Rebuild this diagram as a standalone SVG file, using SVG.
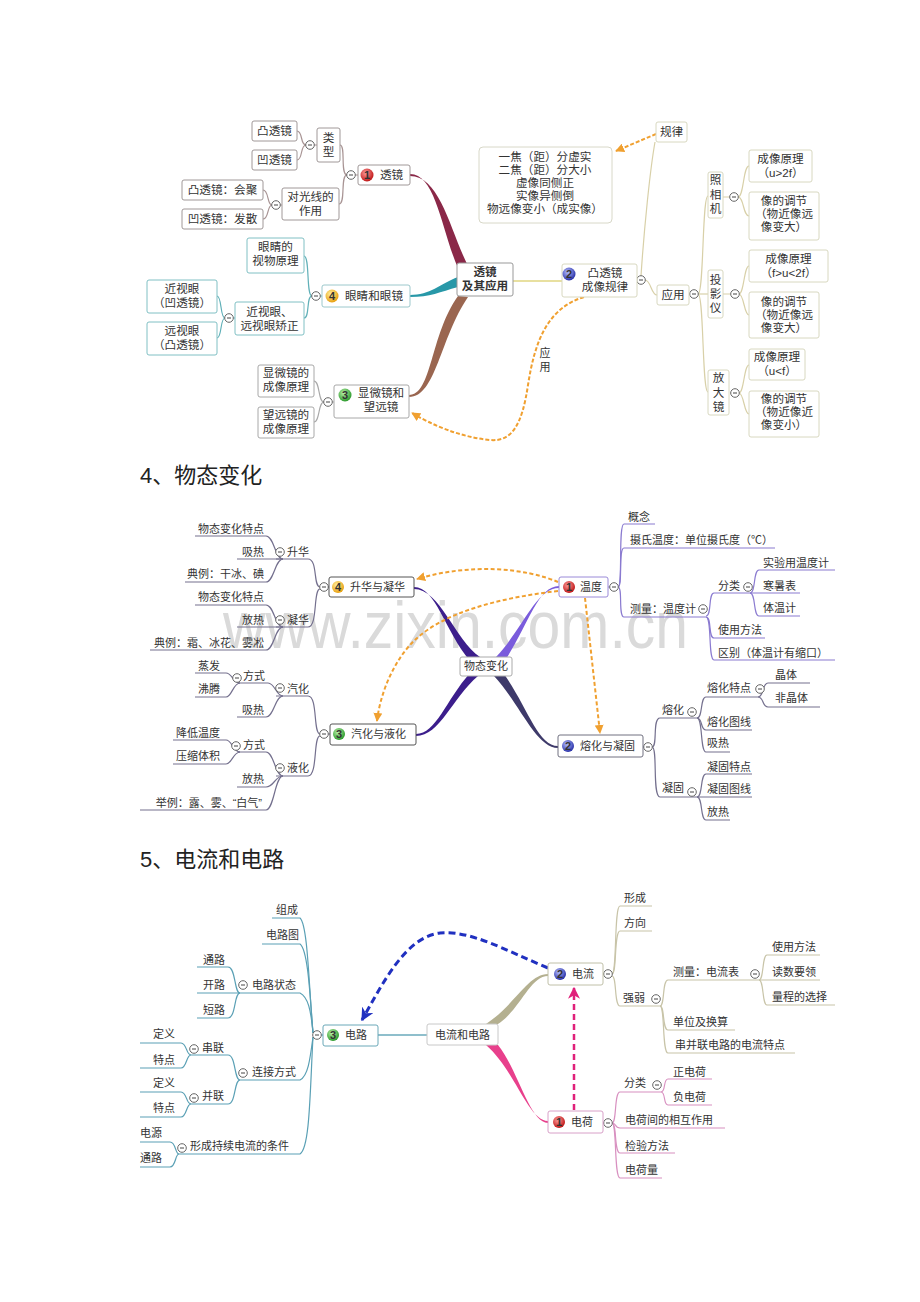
<svg xmlns="http://www.w3.org/2000/svg" xmlns:xlink="http://www.w3.org/1999/xlink" width="920" height="1302" viewBox="0 0 920 1302">
<style>
.t{font-family:"Liberation Sans","Noto Sans CJK SC",sans-serif;font-size:11px;fill:#333}
.m1{font-size:11.6px}
.c{text-anchor:middle}
.e{text-anchor:end}
.bold{font-weight:bold}
.hd{font-family:"Liberation Sans","Noto Sans CJK SC",sans-serif;font-size:22px;fill:#222}
.bx{fill:#fff;stroke-width:1}
.ln{fill:none;stroke-width:1.2}
.wm{font-family:"Liberation Sans",sans-serif;font-size:66px;fill:#dadada}
</style>
<defs>
<radialGradient id="gr" cx="40%" cy="35%" r="65%"><stop offset="0" stop-color="#ff9a9a"/><stop offset="1" stop-color="#c01818"/></radialGradient>
<radialGradient id="gy" cx="40%" cy="35%" r="65%"><stop offset="0" stop-color="#fff0a0"/><stop offset="1" stop-color="#e8a010"/></radialGradient>
<radialGradient id="gg" cx="40%" cy="35%" r="65%"><stop offset="0" stop-color="#b8f0a8"/><stop offset="1" stop-color="#2c9a2c"/></radialGradient>
<radialGradient id="gb" cx="40%" cy="35%" r="65%"><stop offset="0" stop-color="#b8c0ff"/><stop offset="1" stop-color="#2830a8"/></radialGradient>
<g id="mn"><circle r="4.3" fill="#fff" stroke="#666" stroke-width="1"/><line x1="-2" y1="0" x2="2" y2="0" stroke="#444" stroke-width="1"/></g>
<marker id="ao" viewBox="0 0 10 10" refX="9" refY="5" markerWidth="9" markerHeight="9" markerUnits="userSpaceOnUse" orient="auto"><path d="M0,0 L10,5 L0,10 Z" fill="#f0a030"/></marker>
<marker id="ab" viewBox="0 0 10 10" refX="9" refY="5" markerWidth="13" markerHeight="13" markerUnits="userSpaceOnUse" orient="auto"><path d="M0,0 L10,5 L0,10 L3,5 Z" fill="#2030c0"/></marker>
<marker id="ap" viewBox="0 0 10 10" refX="9" refY="5" markerWidth="12" markerHeight="12" markerUnits="userSpaceOnUse" orient="auto"><path d="M0,0 L10,5 L0,10 L3,5 Z" fill="#e0207a"/></marker>
</defs>
<rect x="0" y="0" width="920" height="1302" fill="#fff"/>

<!-- ================= MAP 1 ================= -->
<g id="connectors-1">
<path d="M410,174 C436,174 442,232 458,268 L468,266 C450,230 440,176 410,176 Z" fill="#8a2848"/>
<path d="M410,295 C430,295 440,284 458,277 L458,287 C440,292 430,297 410,297 Z" fill="#2898a8"/>
<path d="M409,395 C432,395 430,335 458,296 L468,297 C440,338 436,397 409,397 Z" fill="#9a6650"/>
<path d="M513,281 L562,281" stroke="#e8e0a0" stroke-width="2" fill="none"/>
<g class="ln" stroke="#a89494">
<path d="M358,175 L347,175 C340,175 346,145 340,145"/>
<path d="M347,175 C340,175 346,204 339,204"/>
<path d="M317,145 L306,145 C300,145 303,131 297,131"/>
<path d="M306,145 C300,145 303,160 297,160"/>
<path d="M282,205 L272,205 C267,205 269,190 263,190"/>
<path d="M272,205 C267,205 269,219 263,219"/>
</g>
<g class="ln" stroke="#60b0b8">
<path d="M322,296 L312,296 C306,296 310,256 304,256"/>
<path d="M312,296 C306,296 310,318 304,318"/>
<path d="M235,318 L225,318 C220,318 222,296 217,296"/>
<path d="M225,318 C220,318 222,338 217,338"/>
</g>
<g class="ln" stroke="#a8a8a8">
<path d="M334,402 L324,402 C318,402 320,381 314,381"/>
<path d="M324,402 C318,402 320,422 314,422"/>
</g>
<g class="ln" stroke="#d8d0a8">
<path d="M637,280 L641,280"/>
<path d="M641,276 C644,230 650,170 655,142"/>
<path d="M645,280 C651,280 651,295 657,295"/>
<path d="M689,294 L698,294 C704,294 702,196 708,196"/>
<path d="M698,294 L708,294"/>
<path d="M698,294 C704,294 702,392 708,392"/>
<path d="M723,197 L738,197 C744,197 743,166 749,166"/>
<path d="M738,197 C744,197 743,216 749,216"/>
<path d="M723,294 L739,294 C744,294 744,266 749,266"/>
<path d="M739,294 C744,294 744,315 749,315"/>
<path d="M730,393 L739,393 C744,393 744,365 749,365"/>
<path d="M739,393 C744,393 744,414 749,414"/>
</g>
<path d="M656,134 L616,151" fill="none" stroke="#f0a030" stroke-width="2" stroke-dasharray="4,2" marker-end="url(#ao)"/>
<path d="M584,297 C548,308 535,340 528,385 C522,425 512,442 490,440 C460,437 432,425 412,413" fill="none" stroke="#f0a030" stroke-width="2" stroke-dasharray="4,2" marker-end="url(#ao)"/>
<text class="t c" font-size="10"><tspan x="545" y="357">应</tspan><tspan x="545" y="371">用</tspan></text>
<use href="#mn" x="351" y="175"/><use href="#mn" x="310" y="145"/><use href="#mn" x="276" y="205"/>
<use href="#mn" x="316" y="296"/><use href="#mn" x="229" y="318"/><use href="#mn" x="328" y="402"/>
<use href="#mn" x="641" y="280"/><use href="#mn" x="694" y="294"/><use href="#mn" x="734" y="197"/><use href="#mn" x="735" y="294"/><use href="#mn" x="735" y="393"/>
</g>

<g id="center-1"><rect class="bx" x="457" y="263" width="56" height="33" rx="2" stroke="#999" stroke-width="1.5"/>
<text class="t m1 c bold"><tspan x="485" y="276">透镜</tspan><tspan x="485" y="290">及其应用</tspan></text></g>

<g id="n1-lens"><rect class="bx" x="358" y="165" width="52" height="20" rx="2" stroke="#a09898"/>
<circle cx="367" cy="175" r="6.5" fill="url(#gr)"/><text class="t c bold" x="367" y="179" font-size="10" fill="#222">1</text>
<text class="t m1" x="380" y="179">透镜</text></g>
<g id="n1-type"><rect class="bx" x="317" y="128" width="23" height="34" rx="2" stroke="#a09898"/><text class="t m1 c"><tspan x="328.5" y="142">类</tspan><tspan x="328.5" y="156">型</tspan></text></g>
<g id="n1-tu"><rect class="bx" x="252" y="121" width="45" height="20" rx="2" stroke="#a09898"/><text class="t m1 c" x="274.5" y="135">凸透镜</text></g>
<g id="n1-ao"><rect class="bx" x="252" y="150" width="45" height="20" rx="2" stroke="#a09898"/><text class="t m1 c" x="274.5" y="164">凹透镜</text></g>
<g id="n1-effect"><rect class="bx" x="282" y="188" width="57" height="32" rx="2" stroke="#a09898"/><text class="t m1 c"><tspan x="310.5" y="201">对光线的</tspan><tspan x="310.5" y="215">作用</tspan></text></g>
<g id="n1-conv"><rect class="bx" x="182" y="180" width="81" height="20" rx="2" stroke="#a09898"/><text class="t m1 c" x="222.5" y="194">凸透镜：会聚</text></g>
<g id="n1-div"><rect class="bx" x="182" y="209" width="81" height="20" rx="2" stroke="#a09898"/><text class="t m1 c" x="222.5" y="223">凹透镜：发散</text></g>

<g id="n4-eye"><rect class="bx" x="322" y="285" width="88" height="22" rx="2" stroke="#9cc8cc"/>
<circle cx="332" cy="296" r="6.5" fill="url(#gy)"/><text class="t c bold" x="332" y="300" font-size="10" fill="#fff">4</text>
<text class="t m1" x="345" y="300">眼睛和眼镜</text></g>
<g id="n4-see"><rect class="bx" x="247" y="238" width="57" height="35" rx="2" stroke="#80c0c4"/><text class="t m1 c"><tspan x="275.5" y="251">眼睛的</tspan><tspan x="275.5" y="265">视物原理</tspan></text></g>
<g id="n4-fix"><rect class="bx" x="235" y="302" width="69" height="33" rx="2" stroke="#80c0c4"/><text class="t m1 c"><tspan x="269.5" y="316">近视眼、</tspan><tspan x="269.5" y="330">远视眼矫正</tspan></text></g>
<g id="n4-near"><rect class="bx" x="147" y="280" width="70" height="33" rx="2" stroke="#80c0c4"/><text class="t m1 c"><tspan x="182" y="293">近视眼</tspan><tspan x="182" y="307">（凹透镜）</tspan></text></g>
<g id="n4-far"><rect class="bx" x="147" y="322" width="70" height="33" rx="2" stroke="#80c0c4"/><text class="t m1 c"><tspan x="182" y="335">远视眼</tspan><tspan x="182" y="349">（凸透镜）</tspan></text></g>

<g id="n3-micro"><rect class="bx" x="334" y="385" width="75" height="33" rx="2" stroke="#a8a8a8"/>
<circle cx="345" cy="395" r="6.5" fill="url(#gg)"/><text class="t c bold" x="345" y="399" font-size="10" fill="#222">3</text>
<text class="t m1 c"><tspan x="381" y="397">显微镜和</tspan><tspan x="381" y="411">望远镜</tspan></text></g>
<g id="n3-m1"><rect class="bx" x="258" y="365" width="56" height="32" rx="2" stroke="#a8a8a8"/><text class="t m1 c"><tspan x="286" y="377">显微镜的</tspan><tspan x="286" y="391">成像原理</tspan></text></g>
<g id="n3-m2"><rect class="bx" x="258" y="407" width="56" height="31" rx="2" stroke="#a8a8a8"/><text class="t m1 c"><tspan x="286" y="419">望远镜的</tspan><tspan x="286" y="433">成像原理</tspan></text></g>

<g id="n2-rule"><rect class="bx" x="562" y="264" width="75" height="33" rx="2" stroke="#d8d8c0"/>
<circle cx="569" cy="274" r="6.5" fill="url(#gb)"/><text class="t c bold" x="569" y="278" font-size="10" fill="#fff">2</text>
<text class="t m1 c"><tspan x="605" y="277">凸透镜</tspan><tspan x="605" y="291">成像规律</tspan></text></g>
<g id="n2-law"><rect class="bx" x="656" y="122" width="31" height="20" rx="2" stroke="#d8d8c0"/><text class="t m1 c" x="671.5" y="136">规律</text></g>
<g id="n2-text"><rect class="bx" x="479" y="147" width="133" height="76" rx="4" stroke="#d8d8c8"/>
<text class="t m1 c"><tspan x="545" y="161">一焦（距）分虚实</tspan><tspan x="545" y="174">二焦（距）分大小</tspan><tspan x="545" y="187">虚像同侧正</tspan><tspan x="545" y="200">实像异侧倒</tspan><tspan x="545" y="213">物远像变小（成实像）</tspan></text></g>
<g id="n2-use"><rect class="bx" x="657" y="285" width="32" height="20" rx="2" stroke="#d8d8c0"/><text class="t m1 c" x="673" y="299">应用</text></g>
<g id="n2-camera"><rect class="bx" x="708" y="172" width="15" height="46" rx="2" stroke="#d8d8c0"/><text class="t m1 c"><tspan x="715.5" y="184">照</tspan><tspan x="715.5" y="199">相</tspan><tspan x="715.5" y="213">机</tspan></text></g>
<g id="n2-c1"><rect class="bx" x="749" y="150" width="63" height="32" rx="2" stroke="#d8d8c0"/><text class="t m1 c"><tspan x="780.5" y="163">成像原理</tspan><tspan x="780.5" y="177">（u&gt;2f）</tspan></text></g>
<g id="n2-c2"><rect class="bx" x="749" y="192" width="70" height="48" rx="2" stroke="#d8d8c0"/><text class="t m1 c"><tspan x="784" y="205">像的调节</tspan><tspan x="784" y="218">（物近像远</tspan><tspan x="784" y="231">像变大）</tspan></text></g>
<g id="n2-proj"><rect class="bx" x="708" y="270" width="15" height="48" rx="2" stroke="#d8d8c0"/><text class="t m1 c"><tspan x="715.5" y="284">投</tspan><tspan x="715.5" y="298">影</tspan><tspan x="715.5" y="312">仪</tspan></text></g>
<g id="n2-p1"><rect class="bx" x="749" y="250" width="79" height="32" rx="2" stroke="#d8d8c0"/><text class="t m1 c"><tspan x="788.5" y="263">成像原理</tspan><tspan x="788.5" y="277">（f&gt;u&lt;2f）</tspan></text></g>
<g id="n2-p2"><rect class="bx" x="749" y="292" width="70" height="46" rx="2" stroke="#d8d8c0"/><text class="t m1 c"><tspan x="784" y="306">像的调节</tspan><tspan x="784" y="319">（物近像远</tspan><tspan x="784" y="332">像变大）</tspan></text></g>
<g id="n2-mag"><rect class="bx" x="708" y="370" width="21" height="45" rx="2" stroke="#d8d8c0"/><text class="t m1 c"><tspan x="718.5" y="382">放</tspan><tspan x="718.5" y="397">大</tspan><tspan x="718.5" y="411">镜</tspan></text></g>
<g id="n2-m1"><rect class="bx" x="749" y="349" width="56" height="31" rx="2" stroke="#d8d8c0"/><text class="t m1 c"><tspan x="777" y="361">成像原理</tspan><tspan x="777" y="375">（u&lt;f）</tspan></text></g>
<g id="n2-m2"><rect class="bx" x="749" y="391" width="70" height="46" rx="2" stroke="#d8d8c0"/><text class="t m1 c"><tspan x="784" y="403">像的调节</tspan><tspan x="784" y="416">（物近像近</tspan><tspan x="784" y="429">像变小）</tspan></text></g>

<!-- ================= HEADING 4 ================= -->
<text class="hd" x="140" y="483">4、物态变化</text>

<!-- ================= MAP 2 ================= -->
<text class="wm" x="223" y="648" textLength="465" lengthAdjust="spacingAndGlyphs">www.zixin.com.cn</text>
<g id="connectors-2">
<path d="M414,587 C436,587 444,630 470,661 L480,657 C455,640 440,589 414,589 Z" fill="#3c1e8c"/>
<path d="M416,734 C436,734 446,700 470,673 L478,676 C452,698 440,736 416,736 Z" fill="#3c1e8c"/>
<path d="M559,586 C538,586 528,625 506,659 L496,657 C522,630 536,588 559,588 Z" fill="#7a5cdc"/>
<path d="M558,746 C538,746 528,708 504,674 L494,676 C520,704 536,748 558,748 Z" fill="#3e3a6a"/>
<g class="ln" stroke="#74708e">
<path d="M329,587 L320,587 C313,587 318,559 308,559 L276,559"/>
<path d="M195,536 L266,536 C274,536 275,559 283,559"/>
<path d="M237,559 L283,559"/>
<path d="M185,582 L266,582 C274,582 275,559 283,559"/>
<path d="M320,589 C313,589 318,627 308,627 L276,627"/>
<path d="M195,605 L266,605 C274,605 275,627 283,627"/>
<path d="M237,627 L283,627"/>
<path d="M150,650 L266,650 C274,650 275,627 283,627"/>
<path d="M330,734 L320,734 C313,734 318,696 308,696 L276,696"/>
<path d="M238,683 L268,683 C275,683 276,696 283,696"/>
<path d="M195,673 L226,673 C232,673 233,683 240,683"/>
<path d="M195,697 L226,697 C232,697 233,683 240,683"/>
<path d="M237,717 L266,717 C274,717 275,696 283,696"/>
<path d="M320,736 C313,736 318,776 308,776 L276,776"/>
<path d="M238,752 L266,752 C274,752 275,776 283,776"/>
<path d="M173,740 L226,740 C232,740 233,752 240,752"/>
<path d="M173,764 L226,764 C232,764 233,752 240,752"/>
<path d="M237,787 L266,787 C274,787 275,776 283,776"/>
<path d="M140,810 L266,810 C274,810 275,776 283,776"/>
</g>
<g class="ln" stroke="#8a7ad0">
<path d="M608,587 L618,587 C623,587 618,524 624,524 L655,524"/>
<path d="M618,587 C623,587 618,548 624,548 L775,548"/>
<path d="M618,587 C623,587 618,617 624,617 L706,617"/>
<path d="M706,616 C712,616 708,593 714,593 L750,593"/>
<path d="M706,617 C712,617 708,638 714,638 L765,638"/>
<path d="M706,617 C712,617 708,660 714,660 L835,660"/>
<path d="M750,593 C756,593 753,570 759,570 L835,570"/>
<path d="M750,593 L800,593"/>
<path d="M750,593 C756,593 753,616 759,616 L800,616"/>
</g>
<g class="ln" stroke="#74708e">
<path d="M643,747 L652,747 C658,747 652,718 660,718 L697,718"/>
<path d="M697,718 C703,718 700,697 706,697 L758,697"/>
<path d="M758,697 C764,697 762,683 768,683 L810,683"/>
<path d="M758,697 C764,697 762,707 768,707 L820,707"/>
<path d="M697,718 C703,718 700,730 706,730 L752,730"/>
<path d="M697,718 C703,718 700,752 706,752 L730,752"/>
<path d="M652,747 C658,747 652,797 660,797 L697,797"/>
<path d="M697,797 C703,797 700,774 706,774 L752,774"/>
<path d="M697,797 L752,797"/>
<path d="M697,797 C703,797 700,820 706,820 L730,820"/>
</g>
<g fill="none" stroke="#f0a030" stroke-width="2" stroke-dasharray="4,2.5">
<path d="M558,582 C525,568 470,563 417,579" marker-end="url(#ao)"/>
<path d="M558,591 C500,598 440,612 410,645 C392,665 380,695 377,721" marker-end="url(#ao)"/>
<path d="M585,598 L600,733" marker-end="url(#ao)"/>
</g>
<use href="#mn" x="324" y="587"/><use href="#mn" x="280" y="552"/><use href="#mn" x="280" y="620"/>
<use href="#mn" x="324" y="734"/><use href="#mn" x="280" y="688"/><use href="#mn" x="237" y="678"/><use href="#mn" x="280" y="768"/><use href="#mn" x="236" y="746"/>
<use href="#mn" x="614" y="587"/><use href="#mn" x="703" y="609"/><use href="#mn" x="748" y="587"/>
<use href="#mn" x="648" y="747"/><use href="#mn" x="692" y="712"/><use href="#mn" x="760" y="689"/><use href="#mn" x="692" y="792"/>
</g>
<g id="center-2"><rect class="bx" x="460" y="657" width="52" height="19" rx="2" stroke="#aaa"/><text class="t c" x="486" y="670">物态变化</text></g>
<g id="b4-sub"><rect class="bx" x="329" y="577" width="85" height="20" rx="2" stroke="#555"/>
<circle cx="338" cy="587" r="6" fill="url(#gy)"/><text class="t c bold" x="338" y="591" font-size="9" fill="#fff">4</text>
<text class="t" x="350" y="591">升华与凝华</text></g>
<g id="b4-texts" class="t">
<text class="e" x="264" y="533">物态变化特点</text><text class="e" x="264" y="556">吸热</text><text class="e" x="264" y="578">典例：干冰、碘</text><text x="287" y="556">升华</text>
<text class="e" x="264" y="601">物态变化特点</text><text class="e" x="264" y="624">放热</text><text class="e" x="264" y="647">典例：霜、冰花、雾凇</text><text x="287" y="624">凝华</text>
</g>
<g id="b3-vap"><rect class="bx" x="330" y="724" width="86" height="21" rx="2" stroke="#555"/>
<circle cx="339" cy="734" r="6" fill="url(#gg)"/><text class="t c bold" x="339" y="738" font-size="9" fill="#222">3</text>
<text class="t" x="351" y="738">汽化与液化</text></g>
<g id="b3-texts" class="t">
<text class="e" x="220" y="670">蒸发</text><text class="e" x="220" y="693">沸腾</text><text x="243" y="680">方式</text><text x="287" y="693">汽化</text><text class="e" x="264" y="714">吸热</text>
<text class="e" x="220" y="737">降低温度</text><text class="e" x="220" y="760">压缩体积</text><text x="243" y="749">方式</text><text x="287" y="772">液化</text><text class="e" x="264" y="783">放热</text><text class="e" x="262" y="807">举例：露、雾、“白气”</text>
</g>
<g id="b1-temp"><rect class="bx" x="559" y="577" width="49" height="20" rx="2" stroke="#9a8ad8"/>
<circle cx="569" cy="587" r="6" fill="url(#gr)"/><text class="t c bold" x="569" y="591" font-size="9" fill="#222">1</text>
<text class="t" x="580" y="591">温度</text></g>
<g id="b1-texts" class="t">
<text x="628" y="521">概念</text><text x="630" y="544">摄氏温度：单位摄氏度（℃）</text><text x="630" y="613">测量：温度计</text>
<text x="718" y="590">分类</text><text x="763" y="567">实验用温度计</text><text x="763" y="590">寒暑表</text><text x="763" y="612">体温计</text>
<text x="718" y="634">使用方法</text><text x="718" y="657">区别（体温计有缩口）</text>
</g>
<g id="b2-melt"><rect class="bx" x="558" y="735" width="85" height="22" rx="2" stroke="#707080"/>
<circle cx="568" cy="746" r="6" fill="url(#gb)"/><text class="t c bold" x="568" y="750" font-size="9" fill="#fff">2</text>
<text class="t" x="580" y="750">熔化与凝固</text></g>
<g id="b2-texts" class="t">
<text x="662" y="714">熔化</text><text x="707" y="692">熔化特点</text><text x="775" y="679">晶体</text><text x="775" y="702">非晶体</text><text x="707" y="726">熔化图线</text><text x="707" y="747">吸热</text>
<text x="662" y="792">凝固</text><text x="707" y="771">凝固特点</text><text x="707" y="793">凝固图线</text><text x="707" y="816">放热</text>
</g>

<!-- ================= HEADING 5 ================= -->
<text class="hd" x="140" y="867">5、电流和电路</text>

<!-- ================= MAP 3 ================= -->
<g id="connectors-3">
<path d="M548,974 C528,974 515,1005 486,1024 L498,1024 C520,1010 530,976 548,976 Z" fill="#b4b090"/>
<path d="M548,1121 C528,1121 515,1070 486,1045 L498,1045 C518,1070 530,1123 548,1123 Z" fill="#e8408c"/>
<path d="M378,1035 L427,1035" stroke="#6aaabb" stroke-width="1.5" fill="none"/>
<g class="ln" stroke="#5aa0b5">
<path d="M323,1035 L313,1035"/>
<path d="M313,1033 C309,990 308,925 300,918 L272,918"/>
<path d="M313,1033 C310,995 308,950 300,944 L262,944"/>
<path d="M313,1033 C311,1010 308,997 300,993 L240,993"/>
<path d="M240,993 C234,993 236,967 228,967 L197,967"/>
<path d="M240,993 L197,993"/>
<path d="M240,993 C234,993 236,1018 228,1018 L197,1018"/>
<path d="M313,1037 C310,1060 308,1076 300,1080 L240,1080"/>
<path d="M240,1080 C234,1080 236,1055 228,1055 L191,1055"/>
<path d="M191,1055 C186,1055 187,1043 181,1043 L140,1043"/>
<path d="M191,1055 C186,1055 187,1068 181,1068 L140,1068"/>
<path d="M240,1080 C234,1080 236,1104 228,1104 L191,1104"/>
<path d="M191,1104 C186,1104 187,1092 181,1092 L140,1092"/>
<path d="M191,1104 C186,1104 187,1117 181,1117 L140,1117"/>
<path d="M313,1037 C310,1090 310,1148 300,1154 L179,1154"/>
<path d="M179,1154 C175,1154 176,1142 170,1142 L140,1142"/>
<path d="M179,1154 C175,1154 176,1167 170,1167 L140,1167"/>
</g>
<g class="ln" stroke="#c8c4a8">
<path d="M603,974 L612,974 C617,974 614,906 620,906 L652,906"/>
<path d="M612,974 C617,974 614,931 620,931 L652,931"/>
<path d="M612,976 C617,976 614,1006 620,1006 L660,1006"/>
<path d="M660,1006 C665,1006 662,980 668,980 L759,980"/>
<path d="M759,980 C764,980 762,955 767,955 L820,955"/>
<path d="M759,980 L820,980"/>
<path d="M759,980 C764,980 762,1005 767,1005 L835,1005"/>
<path d="M660,1006 C665,1006 662,1030 668,1030 L735,1030"/>
<path d="M660,1006 C665,1006 662,1053 668,1053 L795,1053"/>
</g>
<g class="ln" stroke="#d890c0">
<path d="M603,1123 L612,1123 C617,1123 614,1092 620,1092 L661,1092"/>
<path d="M661,1092 C666,1092 663,1079 668,1079 L712,1079"/>
<path d="M661,1092 C666,1092 663,1105 668,1105 L712,1105"/>
<path d="M612,1123 C617,1123 614,1128 620,1128 L725,1128"/>
<path d="M612,1123 C617,1123 614,1153 620,1153 L675,1153"/>
<path d="M612,1123 C617,1123 614,1178 620,1178 L662,1178"/>
</g>
<path d="M548,968 C505,950 470,930 440,933 C405,937 382,985 362,1020" fill="none" stroke="#2030c0" stroke-width="3" stroke-dasharray="7,4" marker-end="url(#ab)"/>
<path d="M574,1110 L574,988" fill="none" stroke="#e0207a" stroke-width="2.5" stroke-dasharray="6,4" marker-end="url(#ap)"/>
<use href="#mn" x="317" y="1035"/><use href="#mn" x="243" y="985"/><use href="#mn" x="243" y="1073"/><use href="#mn" x="194" y="1049"/><use href="#mn" x="194" y="1098"/><use href="#mn" x="182" y="1148"/>
<use href="#mn" x="608" y="974"/><use href="#mn" x="656" y="999"/><use href="#mn" x="755" y="974"/>
<use href="#mn" x="608" y="1123"/><use href="#mn" x="657" y="1085"/>
</g>
<g id="center-3"><rect class="bx" x="427" y="1024" width="71" height="21" rx="2" stroke="#c8c8c8"/><text class="t c" x="462.5" y="1039">电流和电路</text></g>
<g id="c3-circuit"><rect class="bx" x="323" y="1025" width="55" height="21" rx="2" stroke="#6aa8b8"/>
<circle cx="333" cy="1035" r="6" fill="url(#gg)"/><text class="t c bold" x="333" y="1039" font-size="9" fill="#222">3</text>
<text class="t" x="345" y="1039">电路</text></g>
<g id="c3-texts" class="t">
<text class="e" x="298" y="914">组成</text><text class="e" x="299" y="939">电路图</text>
<text x="252" y="989">电路状态</text><text class="e" x="225" y="964">通路</text><text class="e" x="225" y="989">开路</text><text class="e" x="225" y="1014">短路</text>
<text x="153" y="1038">定义</text><text x="202" y="1052">串联</text><text x="153" y="1064">特点</text>
<text x="252" y="1076">连接方式</text>
<text x="153" y="1087">定义</text><text x="202" y="1100">并联</text><text x="153" y="1112">特点</text>
<text x="140" y="1137">电源</text><text x="190" y="1150">形成持续电流的条件</text><text x="140" y="1162">通路</text>
</g>
<g id="c2-current"><rect class="bx" x="548" y="963" width="55" height="22" rx="2" stroke="#c0c0a8"/>
<circle cx="560" cy="974" r="6" fill="url(#gb)"/><text class="t c bold" x="560" y="978" font-size="9" fill="#fff">2</text>
<text class="t" x="572" y="978">电流</text></g>
<g id="c2-texts" class="t">
<text x="624" y="902">形成</text><text x="624" y="927">方向</text><text x="623" y="1002">强弱</text>
<text x="673" y="976">测量：电流表</text><text x="772" y="951">使用方法</text><text x="772" y="976">读数要领</text><text x="772" y="1001">量程的选择</text>
<text x="673" y="1026">单位及换算</text><text x="675" y="1049">串并联电路的电流特点</text>
</g>
<g id="c1-charge"><rect class="bx" x="548" y="1111" width="55" height="22" rx="2" stroke="#d8a0c8"/>
<circle cx="559" cy="1122" r="6" fill="url(#gr)"/><text class="t c bold" x="559" y="1126" font-size="9" fill="#222">1</text>
<text class="t" x="571" y="1126">电荷</text></g>
<g id="c1-texts" class="t">
<text x="624" y="1087">分类</text><text x="673" y="1076">正电荷</text><text x="673" y="1101">负电荷</text>
<text x="625" y="1124">电荷间的相互作用</text><text x="625" y="1150">检验方法</text><text x="625" y="1174">电荷量</text>
</g>
</svg>
